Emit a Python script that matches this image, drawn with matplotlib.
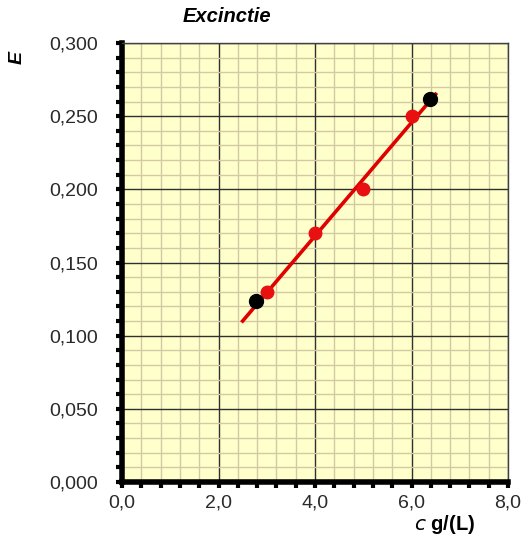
import matplotlib
matplotlib.use("Agg")
import matplotlib.pyplot as plt
from matplotlib.ticker import MultipleLocator, FuncFormatter

# Data
red_c = [3.0, 4.0, 5.0, 6.0]
red_E = [0.130, 0.170, 0.200, 0.250]
black_c = [2.78, 6.38]
black_E = [0.124, 0.262]
line_c = [2.5, 6.5]
line_E = [0.110, 0.265]

plt.rcParams['font.family'] = ['Liberation Sans', 'DejaVu Sans']

W, H = 523, 539
fig = plt.figure(figsize=(W / 100, H / 100), dpi=100)
left, right, top, bottom = 122, 508, 43, 482
ax = fig.add_axes([left / W, 1 - bottom / H, (right - left) / W, (bottom - top) / H])
ax.set_facecolor('#FFFFCC')

ax.set_xlim(0, 8)
ax.set_ylim(0, 0.3)
ax.xaxis.set_major_locator(MultipleLocator(2))
ax.xaxis.set_minor_locator(MultipleLocator(0.4))
ax.yaxis.set_major_locator(MultipleLocator(0.05))
ax.yaxis.set_minor_locator(MultipleLocator(0.01))

ax.xaxis.set_major_formatter(FuncFormatter(lambda v, p: f"{v:.1f}".replace('.', ',')))
ax.yaxis.set_major_formatter(FuncFormatter(lambda v, p: f"{v:.3f}".replace('.', ',')))

ax.grid(which='minor', color='#D2CAA2', linewidth=1.0, zorder=0)
ax.grid(which='major', color='#303030', linewidth=1.0, zorder=0)
ax.set_axisbelow(True)

for s in ['left', 'bottom']:
    ax.spines[s].set_linewidth(4)
    ax.spines[s].set_color('black')
for s in ['top', 'right']:
    ax.spines[s].set_linewidth(1)
    ax.spines[s].set_color('#404040')

ax.tick_params(which='both', direction='out', length=4, width=3, color='black')
ax.tick_params(axis='y', which='major', labelsize=14, pad=13, labelcolor='#2a2a2a')
ax.tick_params(axis='x', which='major', labelsize=14, pad=5, labelcolor='#2a2a2a')

ax.plot(line_c, line_E, color='#E00000', linewidth=2.6, zorder=3)
ax.plot(red_c, red_E, 'o', color='#E81010', markersize=9, zorder=4)
ax.plot(black_c, black_E, 'o', color='black', markersize=10, zorder=5)

fig.text(227 / W, 1 - 17 / H, 'Excinctie', ha='center', va='center',
         fontsize=14.5, fontweight='bold', fontstyle='italic')
fig.text(17 / W, 1 - 58 / H, 'E', ha='center', va='center', rotation=90,
         fontsize=14, fontweight='bold', fontstyle='italic')
fig.text(445 / W, 1 - 524 / H, r'$\mathbf{\mathit{c}}$ g/(L)', ha='center', va='center',
         fontsize=14.5, fontweight='bold')

fig.savefig('out.png', dpi=100)
